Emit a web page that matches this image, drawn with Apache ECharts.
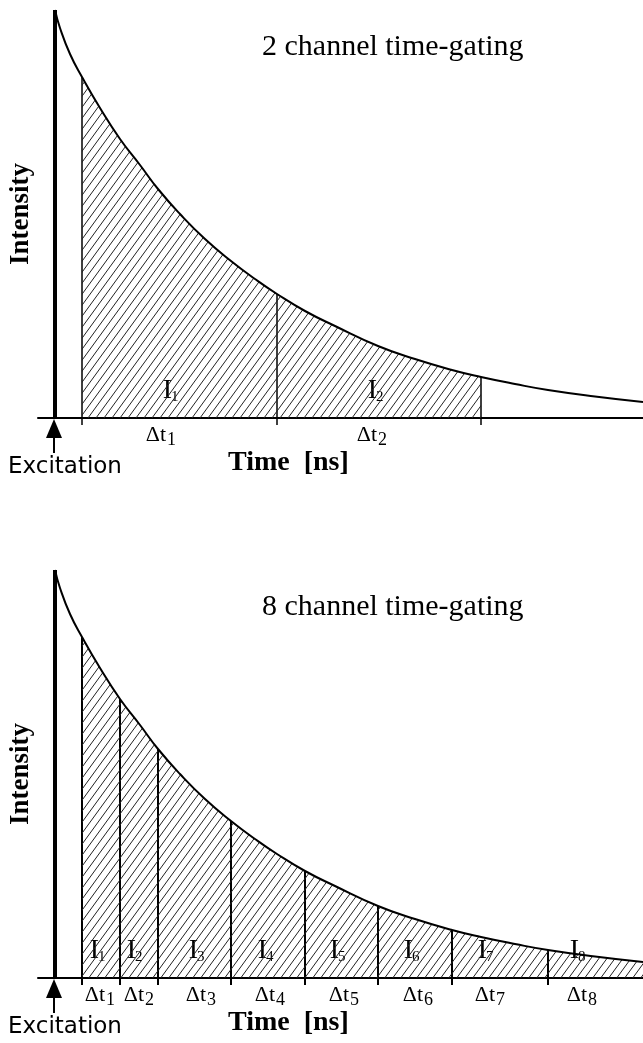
<!DOCTYPE html>
<html>
<head>
<meta charset="utf-8">
<script src="https://cdn.jsdelivr.net/npm/echarts@6/dist/echarts.min.js"></script>
<style>
html, body { margin: 0; padding: 0; background: #fff; }
#chart { width: 643px; height: 1043px; }
</style>
</head>
<body>
<div id="chart"></div>
<script>
// decay curve (time after excitation, intensity), same shape in both panels
var decayTime  = [0, 5, 15, 27, 45, 65, 85, 103, 125, 150, 176, 200, 222, 250, 280, 323, 360, 397, 426, 460, 493, 540, 588];
var decayValue = [408, 390, 364, 341, 310, 279, 253, 229, 204, 179, 157, 139, 124, 107, 92, 72, 59, 48, 41, 34, 28, 21.5, 16];

// gate boundaries
var gates2 = [27, 222, 426];
var gates8 = [27, 65, 103, 176, 250, 323, 397, 493];
var hatchEnd8 = 588;

// label centres (time units)
var iLabel2 = [116, 321];
var dtLabel2 = [108, 319];
var iLabel8 = [43, 80, 142, 211, 283, 357, 431, 523];
var dtLabel8 = [47, 86, 148, 217, 291, 365, 437, 529];

var titles = ['2 channel time-gating', '8 channel time-gating'];

function valueAt(t) {
    return decayValue[decayTime.indexOf(t)];
}

// hatch pattern
var hatch = document.createElement('canvas');
hatch.width = 8;
hatch.height = 11;
var hc = hatch.getContext('2d');
hc.strokeStyle = '#222';
hc.lineWidth = 1;
for (var k = -1; k <= 1; k++) {
    hc.beginPath();
    hc.moveTo(k * 8, 11);
    hc.lineTo((k + 1) * 8, 0);
    hc.stroke();
}

var serif = 'Liberation Serif';

var myChart = echarts.init(document.getElementById('chart'));

var grids = [], xAxes = [], yAxes = [], series = [], graphics = [];

function panel(idx, top, gates, hatchEnd, iLab, dtLab) {
    grids.push({ left: 38, right: 0, top: top, height: 408, outerBoundsMode: 'none', containLabel: false });
    xAxes.push({
        type: 'value', gridIndex: idx, min: -17, max: 588,
        axisLine: { show: true, onZero: false, lineStyle: { color: '#000', width: 2 } },
        axisTick: { show: false }, axisLabel: { show: false }, splitLine: { show: false }
    });
    yAxes.push({
        type: 'value', gridIndex: idx, min: 0, max: 408,
        name: 'Intensity', nameLocation: 'middle', nameGap: 3, nameRotate: 90,
        nameTextStyle: { fontFamily: serif, fontWeight: 'bold', fontSize: 27, color: '#000' },
        axisLine: { show: false }, axisTick: { show: false }, axisLabel: { show: false }, splitLine: { show: false }
    });

    var curve = decayTime.map(function (t, i) { return [t, decayValue[i]]; });
    var hatchData = curve.filter(function (p) { return p[0] >= gates[0] && p[0] <= hatchEnd; });

    // hatched area under the gated part
    series.push({
        type: 'line', xAxisIndex: idx, yAxisIndex: idx, data: hatchData,
        smooth: 0.5, symbol: 'none', silent: true, clip: false,
        lineStyle: { width: 0 },
        areaStyle: { color: { image: hatch, repeat: 'repeat' }, opacity: 1 }
    });
    // decay curve
    series.push({
        type: 'line', xAxisIndex: idx, yAxisIndex: idx, data: curve,
        smooth: 0.5, symbol: 'none', silent: true, clip: false,
        lineStyle: { color: '#000', width: 2 }
    });

    var gw = gates.length > 3 ? 2 : 1.5;
    // gate lines + ticks
    series.push({
        type: 'custom', xAxisIndex: idx, yAxisIndex: idx, silent: true, clip: false,
        data: gates.map(function (t) { return [t, valueAt(t)]; }),
        renderItem: function (params, api) {
            var p0 = api.coord([api.value(0), 0]);
            var p1 = api.coord([api.value(0), api.value(1)]);
            return { type: 'line', shape: { x1: p0[0], y1: p0[1] + 7, x2: p1[0], y2: p1[1] }, style: { stroke: '#000', lineWidth: gw } };
        }
    });
    // excitation line + arrow
    series.push({
        type: 'custom', xAxisIndex: idx, yAxisIndex: idx, silent: true, clip: false,
        data: [[0, decayValue[0]]],
        renderItem: function (params, api) {
            var p0 = api.coord([0, 0]);
            var p1 = api.coord([0, api.value(1)]);
            return {
                type: 'group', children: [
                    { type: 'line', shape: { x1: p0[0], y1: p0[1], x2: p1[0], y2: p1[1] }, style: { stroke: '#000', lineWidth: 4 } },
                    { type: 'polygon', shape: { points: [[p0[0] - 1, p0[1] + 1], [p0[0] - 9, p0[1] + 20], [p0[0] + 7, p0[1] + 20]] }, style: { fill: '#000' } },
                    { type: 'line', shape: { x1: p0[0] - 1, y1: p0[1] + 15, x2: p0[0] - 1, y2: p0[1] + 35 }, style: { stroke: '#000', lineWidth: 2 } }
                ]
            };
        }
    });
    // I_n and Δt_n labels
    series.push({
        type: 'custom', xAxisIndex: idx, yAxisIndex: idx, silent: true, clip: false,
        data: iLab.map(function (t, i) { return [t, dtLab[i], i + 1]; }),
        renderItem: function (params, api) {
            var pi = api.coord([api.value(0), 0]);
            var pd = api.coord([api.value(1), 0]);
            var n = String(api.value(2));
            return {
                type: 'group', children: [
                    { type: 'text', style: { text: 'I', fontFamily: serif, fontSize: 28, fill: '#000', x: pi[0] + 1, y: pi[1] - 27, align: 'right', verticalAlign: 'middle' } },
                    { type: 'text', style: { text: n, fontFamily: serif, fontSize: 15, fill: '#000', x: pi[0], y: pi[1] - 21, align: 'left', verticalAlign: 'middle' } },
                    { type: 'text', style: { text: '\u0394t', fontFamily: serif, fontSize: 22, fill: '#000', x: pd[0] + 3, y: pd[1] + 17, align: 'right', verticalAlign: 'middle' } },
                    { type: 'text', style: { text: n, fontFamily: serif, fontSize: 18, fill: '#000', x: pd[0] + 4, y: pd[1] + 22, align: 'left', verticalAlign: 'middle' } }
                ]
            };
        }
    });

    graphics.push({ type: 'text', left: 262, top: top + 22, style: { text: titles[idx], fontFamily: serif, fontSize: 30, fill: '#000' } });
    graphics.push({ type: 'text', left: 228, top: top + 439, style: { text: 'Time  [ns]', fontFamily: serif, fontWeight: 'bold', fontSize: 28, fill: '#000' } });
    graphics.push({ type: 'text', left: 8, top: top + 446, style: { text: 'Excitation', fontFamily: 'DejaVu Sans', fontSize: 23, fill: '#000' } });
}

panel(0, 10, gates2, gates2[2], iLabel2, dtLabel2);
panel(1, 570, gates8, hatchEnd8, iLabel8, dtLabel8);

var option = {
    animation: false,
    backgroundColor: '#fff',
    grid: grids,
    xAxis: xAxes,
    yAxis: yAxes,
    series: series,
    graphic: graphics
};
myChart.setOption(option);
</script>
</body>
</html>
